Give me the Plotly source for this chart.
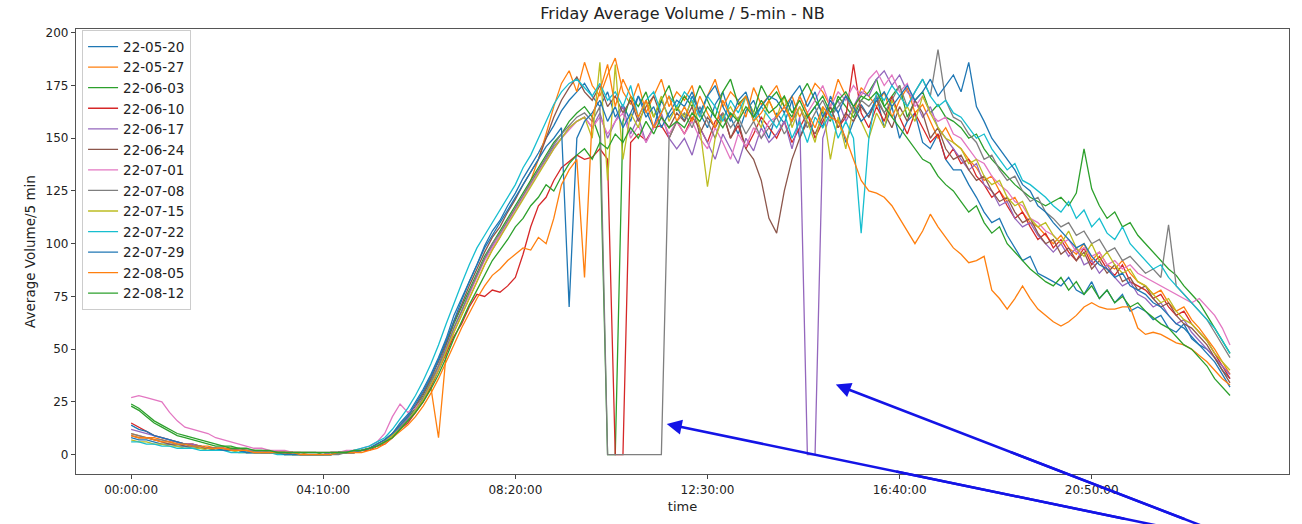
import plotly.graph_objects as go

# time axis: 10-minute samples across the day
times = [f"{h:02d}:{m:02d}:00" for h in range(24) for m in range(0, 60, 10)]
tick_labels = ["00:00:00", "04:10:00", "08:20:00", "12:30:00", "16:40:00", "20:50:00"]
y_ticks = [0, 25, 50, 75, 100, 125, 150, 175, 200]

dates = ["22-05-20", "22-05-27", "22-06-03", "22-06-10", "22-06-17", "22-06-24", "22-07-01",
         "22-07-08", "22-07-15", "22-07-22", "22-07-29", "22-08-05", "22-08-12"]

v_22_05_20 = [
    8, 7, 7, 6, 5, 5, 4, 4, 3, 3, 3, 2,
    2, 2, 2, 1, 1, 1, 1, 1, 0, 1, 0, 0,
    0, 0, 0, 1, 1, 1, 2, 3, 5, 7, 10, 15,
    19, 25, 31, 38, 46, 55, 66, 74, 82, 90, 99, 106,
    111, 118, 124, 131, 137, 143, 150, 156, 163, 168, 172, 176,
    170, 165, 172, 160, 166, 158, 170, 163, 155, 168, 160, 165,
    158, 170, 162, 155, 166, 172, 160, 152, 163, 168, 158, 150,
    162, 157, 168, 150, 160, 165, 155, 170, 162, 148, 158, 166,
    160, 170, 155, 165, 150, 158, 162, 148, 145, 152, 140, 135,
    135, 128, 122, 115, 110, 112, 104, 98, 92, 94, 86, 84,
    82, 80, 84, 78, 76, 82, 74, 78, 72, 76, 68, 70,
    68, 64, 66, 60, 58, 62, 55, 52, 50, 46, 40, 36]

v_22_05_27 = [
    10, 9, 8, 8, 7, 6, 6, 5, 5, 4, 4, 3,
    3, 3, 2, 2, 2, 1, 1, 1, 1, 1, 1, 0,
    0, 0, 1, 1, 1, 1, 2, 3, 4, 6, 9, 12,
    16, 20, 26, 32, 8, 48, 58, 66, 74, 82, 90, 97,
    103, 110, 116, 122, 130, 140, 152, 165, 176, 182, 172, 186,
    175, 170, 180, 188, 172, 166, 176, 162, 170, 178, 165, 172,
    168, 175, 160, 170, 178, 165, 172, 168, 160, 174, 166, 170,
    175, 165, 170, 160, 168, 176, 172, 165, 178, 170, 162, 174,
    170, 165, 172, 160, 168, 174, 162, 166, 158, 150, 155, 148,
    145, 140, 136, 130, 132, 125, 120, 122, 115, 110, 108, 104,
    100, 104, 98, 95, 100, 92, 96, 90, 88, 92, 86, 82,
    80, 76, 78, 72, 68, 70, 64, 60, 55, 50, 44, 38]

v_22_06_03 = [
    23, 21, 18, 15, 13, 11, 9, 8, 7, 6, 5, 4,
    4, 3, 3, 2, 2, 2, 1, 1, 1, 1, 1, 1,
    1, 0, 1, 1, 1, 2, 2, 3, 4, 6, 9, 13,
    17, 22, 28, 35, 42, 52, 62, 70, 78, 86, 94, 100,
    106, 112, 118, 124, 130, 136, 142, 148, 152, 158, 162, 165,
    160, 150, 0, 0, 158, 170, 165, 172, 160, 168, 175, 163,
    170, 165, 175, 168, 160, 172, 178, 166, 170, 162, 175, 168,
    172, 165, 160, 170, 176, 168, 162, 158, 170, 165, 160, 168,
    172, 178, 165, 170, 175, 160, 168, 172, 162, 166, 160, 158,
    155, 150, 152, 145, 140, 136, 132, 128, 125, 122, 120, 118,
    120, 122, 118, 124, 145, 126, 118, 112, 115, 108, 110, 104,
    100, 96, 92, 88, 85, 80, 76, 72, 66, 60, 54, 48]

v_22_06_10 = [
    15, 13, 11, 9, 8, 7, 6, 5, 5, 4, 3, 3,
    3, 2, 2, 2, 1, 1, 1, 1, 1, 0, 0, 0,
    0, 0, 0, 1, 1, 1, 2, 2, 4, 5, 8, 12,
    15, 20, 25, 32, 40, 48, 56, 62, 70, 76, 75, 78,
    77, 80, 84, 95, 108, 118, 122, 130, 136, 139, 142, 140,
    141, 145, 140, 0, 0, 148, 152, 149, 155, 156, 150, 158,
    152, 160, 155, 148, 158, 162, 150, 156, 145, 152, 160, 155,
    150, 158, 148, 155, 162, 150, 158, 165, 155, 160, 185, 162,
    155, 165, 158, 170, 160, 152, 162, 155, 148, 152, 140, 145,
    138, 140, 132, 128, 122, 125, 118, 112, 115, 108, 102, 105,
    98, 102, 96, 92, 98, 90, 94, 88, 85, 90, 82, 80,
    78, 74, 76, 70, 66, 68, 62, 58, 54, 48, 42, 36]

v_22_06_17 = [
    12, 11, 10, 9, 8, 7, 6, 5, 5, 4, 3, 3,
    3, 2, 2, 2, 2, 1, 1, 1, 1, 1, 0, 0,
    0, 0, 1, 1, 1, 1, 2, 3, 4, 6, 9, 13,
    17, 21, 27, 34, 42, 51, 60, 68, 76, 85, 93, 99,
    104, 110, 116, 122, 128, 134, 140, 146, 150, 155, 158, 160,
    155, 162, 150, 158, 165, 152, 160, 148, 156, 162, 150, 145,
    150, 142, 155, 148, 140, 152, 145, 138, 150, 144, 155, 148,
    152, 158, 145, 160, 0, 0, 150, 162, 168, 158, 165, 172,
    170, 178, 182, 175, 180, 172, 168, 160, 165, 155, 150, 145,
    140, 135, 138, 128, 125, 118, 120, 112, 108, 110, 104, 100,
    96, 100, 94, 98, 90, 92, 86, 90, 84, 80, 82, 76,
    74, 70, 72, 66, 62, 64, 58, 54, 50, 46, 42, 38]

v_22_06_24 = [
    9, 8, 8, 7, 6, 5, 5, 4, 4, 3, 3, 2,
    2, 2, 2, 1, 1, 1, 1, 1, 1, 0, 0, 0,
    0, 0, 0, 1, 1, 1, 2, 3, 5, 7, 10, 14,
    18, 23, 29, 36, 44, 53, 63, 71, 80, 88, 96, 103,
    108, 115, 121, 128, 134, 140, 150, 160, 168, 174, 179, 172,
    168, 175, 165, 170, 162, 168, 158, 165, 170, 160, 155, 162,
    158, 165, 152, 160, 155, 162, 150, 158, 145, 140, 130, 112,
    105, 125, 140, 150, 158, 152, 160, 165, 155, 162, 158, 165,
    160, 168, 162, 155, 165, 158, 168, 162, 150, 155, 145, 140,
    142, 135, 130, 132, 125, 120, 122, 115, 110, 112, 105, 100,
    102, 95, 98, 92, 96, 88, 92, 86, 90, 82, 84, 78,
    80, 74, 70, 72, 66, 62, 60, 56, 52, 46, 40, 34]

v_22_07_01 = [
    27, 28, 27, 26, 25, 20, 16, 13, 12, 11, 10, 8,
    7, 6, 5, 4, 3, 3, 2, 2, 2, 1, 1, 1,
    1, 1, 1, 1, 2, 2, 3, 4, 6, 10, 18, 24,
    20, 22, 27, 34, 41, 50, 60, 68, 76, 84, 92, 98,
    104, 110, 116, 122, 128, 134, 139, 145, 150, 154, 158, 160,
    155, 160, 152, 158, 162, 150, 156, 148, 155, 160, 152, 158,
    152, 158, 150, 145, 155, 148, 140, 152, 146, 155, 150, 158,
    160, 165, 158, 170, 162, 168, 175, 165, 172, 168, 175, 170,
    178, 182, 175, 180, 172, 176, 165, 170, 162, 158, 160, 152,
    150, 145, 140, 138, 132, 128, 125, 120, 118, 112, 110, 106,
    104, 100, 102, 96, 98, 94, 96, 90, 92, 88, 90, 86,
    84, 82, 80, 78, 76, 74, 72, 74, 70, 66, 60, 52]

v_22_07_08 = [
    10, 9, 8, 7, 7, 6, 5, 5, 4, 4, 3, 3,
    2, 2, 2, 2, 1, 1, 1, 1, 1, 1, 0, 0,
    0, 0, 0, 0, 1, 1, 2, 3, 4, 6, 9, 13,
    16, 21, 27, 34, 42, 50, 60, 68, 77, 85, 93, 100,
    105, 111, 117, 123, 129, 135, 141, 147, 152, 156, 160, 162,
    158, 165, 0, 0, 0, 0, 0, 0, 0, 0, 150, 158,
    162, 155, 165, 158, 150, 162, 155, 160, 152, 158, 150, 155,
    160, 152, 158, 165, 155, 162, 168, 160, 165, 170, 162, 168,
    165, 170, 162, 168, 175, 165, 172, 178, 170, 192, 168, 160,
    158, 152, 148, 140, 142, 135, 130, 132, 125, 120, 122, 115,
    112, 108, 110, 104, 106, 100, 102, 96, 98, 92, 94, 90,
    86, 88, 84, 109, 80, 76, 72, 68, 64, 58, 52, 46]

v_22_07_15 = [
    7, 6, 6, 5, 5, 4, 4, 3, 3, 3, 2, 2,
    2, 2, 1, 1, 1, 1, 1, 1, 0, 0, 0, 0,
    0, 0, 0, 1, 1, 1, 2, 3, 4, 6, 9, 12,
    16, 21, 26, 33, 40, 49, 58, 66, 74, 82, 90, 97,
    103, 109, 115, 121, 127, 133, 139, 145, 150, 155, 158, 160,
    150, 186, 130, 185, 140, 162, 155, 168, 160, 170, 158, 165,
    160, 168, 155, 127, 150, 160, 165, 158, 170, 162, 155, 168,
    160, 170, 155, 165, 158, 148, 165, 140, 160, 145, 165, 158,
    150, 162, 155, 168, 160, 165, 158, 170, 162, 155, 150, 148,
    145, 138, 140, 132, 128, 130, 122, 118, 120, 112, 108, 110,
    104, 100, 106, 98, 94, 100, 92, 96, 90, 86, 88, 82,
    80, 76, 72, 74, 68, 64, 62, 58, 54, 48, 44, 40]

v_22_07_22 = [
    6, 6, 5, 5, 4, 4, 3, 3, 3, 2, 2, 2,
    2, 1, 1, 1, 1, 1, 1, 0, 0, 0, 0, 0,
    0, 0, 0, 1, 1, 2, 3, 4, 6, 8, 12, 17,
    22, 28, 35, 43, 52, 62, 72, 81, 90, 98, 104, 110,
    116, 122, 128, 136, 142, 150, 158, 166, 172, 176, 178, 174,
    170, 176, 168, 172, 165, 175, 160, 168, 172, 162, 170, 165,
    172, 168, 160, 170, 165, 158, 168, 162, 170, 158, 165, 160,
    155, 162, 150, 158, 148, 160, 155, 162, 150, 158, 150, 105,
    150, 172, 168, 175, 170, 165, 172, 178, 170, 165, 168, 162,
    160, 155, 150, 152, 145, 140, 135, 138, 130, 128, 125, 122,
    118, 115, 120, 112, 116, 108, 112, 105, 102, 108, 100, 96,
    92, 88, 90, 84, 80, 76, 72, 68, 64, 60, 54, 48]

v_22_07_29 = [
    14, 12, 11, 9, 8, 7, 6, 5, 4, 4, 3, 3,
    2, 2, 2, 1, 1, 1, 1, 1, 0, 0, 0, 0,
    0, 0, 0, 1, 1, 1, 2, 3, 5, 7, 10, 14,
    18, 24, 30, 37, 45, 54, 64, 73, 82, 90, 98, 104,
    110, 116, 122, 128, 134, 140, 146, 150, 155, 70, 150, 158,
    162, 168, 158, 165, 155, 162, 170, 160, 165, 155, 162, 168,
    165, 172, 162, 170, 175, 165, 158, 168, 172, 160, 165, 170,
    168, 162, 170, 175, 165, 172, 160, 168, 162, 170, 165, 158,
    162, 168, 172, 165, 170, 175, 168, 172, 178, 170, 175, 180,
    172, 186, 165, 158, 150, 145, 140, 135, 128, 125, 118, 115,
    110, 106, 102, 98, 100, 94, 90, 88, 84, 86, 80, 78,
    76, 72, 70, 66, 62, 60, 56, 52, 48, 44, 38, 32]

v_22_08_05 = [
    9, 8, 8, 7, 6, 6, 5, 5, 4, 4, 3, 3,
    3, 2, 2, 2, 1, 1, 1, 1, 1, 1, 0, 0,
    0, 0, 0, 1, 1, 1, 1, 2, 3, 5, 8, 11,
    14, 18, 23, 29, 36, 44, 52, 60, 67, 74, 80, 85,
    88, 92, 95, 98, 97, 103, 100, 112, 128, 135, 140, 84,
    160, 172, 185, 165, 178, 170, 160, 168, 155, 162, 170, 158,
    165, 158, 170, 162, 155, 168, 160, 165, 170, 158, 162, 168,
    160, 165, 158, 170, 162, 155, 165, 160, 158, 150, 140, 130,
    125, 124, 122, 118, 112, 106, 100, 106, 114, 108, 103, 98,
    95, 91, 92, 94, 78, 74, 69, 74, 80, 74, 69, 66,
    63, 61, 63, 66, 70, 72, 70, 69, 69, 70, 70, 60,
    57, 58, 57, 55, 53, 52, 50, 47, 44, 40, 36, 33]

v_22_08_12 = [
    24, 22, 19, 16, 14, 12, 10, 9, 8, 7, 6, 5,
    4, 4, 3, 3, 2, 2, 2, 1, 1, 1, 1, 1,
    1, 1, 1, 1, 1, 2, 2, 3, 4, 6, 8, 12,
    16, 20, 25, 31, 38, 46, 55, 63, 71, 78, 85, 92,
    97, 102, 108, 112, 118, 122, 128, 125, 132, 138, 142, 145,
    140, 148, 145, 152, 148, 155, 150, 158, 152, 160, 155, 158,
    155, 162, 158, 165, 160, 155, 162, 158, 165, 160, 168, 162,
    165, 170, 162, 168, 160, 165, 170, 162, 168, 172, 165, 170,
    168, 172, 165, 160, 155, 150, 145, 140, 138, 132, 128, 125,
    120, 115, 118, 110, 105, 108, 100, 96, 92, 88, 85, 82,
    80, 84, 78, 82, 76, 80, 74, 78, 72, 75, 70, 72,
    68, 65, 62, 60, 56, 52, 50, 46, 42, 36, 32, 28]

series = [v_22_05_20, v_22_05_27, v_22_06_03, v_22_06_10, v_22_06_17, v_22_06_24, v_22_07_01,
          v_22_07_08, v_22_07_15, v_22_07_22, v_22_07_29, v_22_08_05, v_22_08_12]

tab10 = ["#1f77b4", "#ff7f0e", "#2ca02c", "#d62728", "#9467bd",
         "#8c564b", "#e377c2", "#7f7f7f", "#bcbd22", "#17becf"]

fig = go.Figure()
for i, (name, vals) in enumerate(zip(dates, series)):
    fig.add_trace(go.Scatter(
        x=times, y=vals, mode="lines", name=name,
        line=dict(color=tab10[i % 10], width=1.3),
    ))

font_family = "DejaVu Sans, Arial, sans-serif"
x_range = [-7.175, 150.675]
y_range = [-9.2, 201.8]

fig.update_layout(
    width=1302, height=524,
    margin=dict(l=76, r=13, t=29, b=44),
    paper_bgcolor="white", plot_bgcolor="white",
    font=dict(family=font_family, size=12, color="#222"),
    title=dict(text="Friday Average Volume / 5-min - NB", x=0.5242, xanchor="center",
               y=1 - 13 / 524, yanchor="middle", yref="container",
               font=dict(size=16, color="#222")),
    showlegend=True,
    legend=dict(x=0.005, y=0.997, xanchor="left", yanchor="top",
                bgcolor="rgba(255,255,255,0.8)", bordercolor="#cccccc", borderwidth=1,
                font=dict(size=13.5, color="#222"), itemwidth=30, tracegroupgap=0),
    xaxis=dict(type="category", range=x_range,
               tickmode="array", tickvals=tick_labels, ticktext=tick_labels,
               ticks="outside", ticklen=4, tickcolor="#444",
               showline=True, mirror=True, linecolor="#555", linewidth=1.2,
               showgrid=False, zeroline=False,
               tickfont=dict(size=12, color="#222"),
               title=dict(text="time", font=dict(size=13, color="#222"), standoff=6)),
    yaxis=dict(range=y_range, tickmode="array", tickvals=y_ticks,
               ticks="outside", ticklen=4, tickcolor="#444",
               showline=True, mirror=True, linecolor="#555", linewidth=1.2,
               showgrid=False, zeroline=False,
               tickfont=dict(size=12, color="#222"),
               title=dict(text="Average Volume/5 min", font=dict(size=13.5, color="#222"), standoff=6)),
)

arrow_color = "#1414e6"
# pointer arrows: heads from annotations, shafts continue off the bottom edge as paper shapes
arrows = [
    dict(x=69.7, y=14.5, dx=459, dy=95),
    dict(x=91.7, y=33.2, dx=350, dy=135),
]
for a in arrows:
    fig.add_annotation(x=a["x"], y=a["y"], xref="x", yref="y", text="", showarrow=True,
                       ax=a["dx"], ay=a["dy"], axref="pixel", ayref="pixel",
                       arrowhead=2, arrowsize=1.2, arrowwidth=2.5, arrowcolor=arrow_color,
                       standoff=0)
    px = (a["x"] - x_range[0]) / (x_range[1] - x_range[0])
    py = (a["y"] - y_range[0]) / (y_range[1] - y_range[0])
    fig.add_shape(type="line", xref="paper", yref="paper",
                  xsizemode="pixel", ysizemode="pixel",
                  xanchor=px, yanchor=py,
                  x0=a["dx"] * 0.5, y0=-a["dy"] * 0.5,
                  x1=a["dx"] * 1.3, y1=-a["dy"] * 1.3,
                  line=dict(color=arrow_color, width=2.5), layer="above")

fig.write_html("out.html")
